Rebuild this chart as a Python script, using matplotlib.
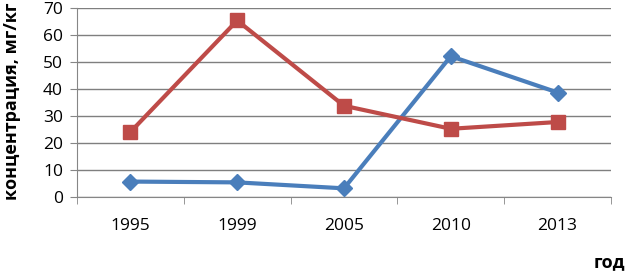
import matplotlib
matplotlib.use("Agg")
import matplotlib.pyplot as plt
import numpy as np

years = ["1995", "1999", "2005", "2010", "2013"]
blue_vals = [5.7, 5.4, 3.2, 52.0, 38.6]
red_vals = [24.0, 65.2, 33.7, 25.2, 27.7]
yticks = [0, 10, 20, 30, 40, 50, 60, 70]

plt.rcParams['font.family'] = ['Open Sans', 'DejaVu Sans']

fig = plt.figure(figsize=(6.27, 2.71), dpi=100)
ax = fig.add_axes([77/627, 1 - 197/271, (611-77)/627, (197-7.5)/271])

x = np.arange(len(years))
ax.plot(x, blue_vals, color='#4A7EBB', lw=3, marker='D', ms=8, zorder=3)
ax.plot(x, red_vals, color='#BE4B48', lw=3, marker='s', ms=10, zorder=3)

ax.set_xlim(-0.5, len(years) - 0.5)
ax.set_ylim(0, 70)
ax.set_yticks(yticks)
ax.set_yticklabels([str(v) for v in yticks], fontsize=12.5)
ax.set_xticks(x)
ax.set_xticklabels(years, fontsize=12.5)
ax.tick_params(axis='x', length=0, pad=15)
ax.set_xticks(np.arange(len(years) + 1) - 0.5, minor=True)
ax.tick_params(axis='x', which='minor', length=5, color='#868686', direction='out')
ax.tick_params(axis='y', length=5, color='#868686', pad=5)
ax.grid(axis='y', color='#7f7f7f', lw=1)
ax.set_axisbelow(True)
for s in ['top', 'right']:
    ax.spines[s].set_visible(False)
for s in ['left', 'bottom']:
    ax.spines[s].set_color('#868686')

fig.text(12/627, 1 - 101/271, 'концентрация, мг/кг', rotation=90, fontsize=13,
         fontweight='bold', ha='center', va='center')
fig.text(609/627, 1 - 262/271, 'год', fontsize=13, fontweight='bold',
         ha='center', va='center')

fig.savefig('out.png', dpi=100)
